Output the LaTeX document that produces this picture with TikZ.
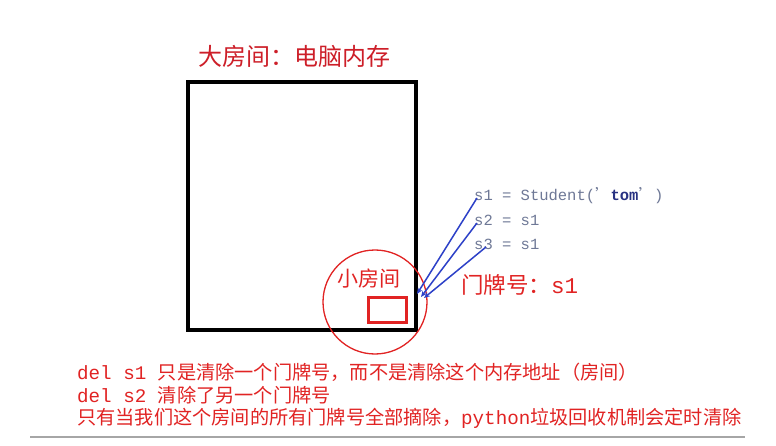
\documentclass[tikz,border=0pt]{standalone}
\usepackage{fontspec}
\newfontfamily\cjk{Noto Sans CJK SC}
\newfontfamily\codefont{Liberation Mono}
\usetikzlibrary{arrows.meta}
\definecolor{tred}{RGB}{205,30,40}
\definecolor{lred}{RGB}{225,35,35}
\definecolor{cgray}{RGB}{110,120,150}
\definecolor{cblue}{RGB}{40,50,130}
\definecolor{ablue}{RGB}{45,65,200}
\newcommand{\lat}[1]{{\codefont #1}}
\tikzset{
  redtext/.style={text=lred,font=\cjk\fontsize{#1}{#1}\selectfont,inner sep=0pt},
  codeline/.style={text=cgray,font=\codefont\fontsize{15.5}{15.5}\selectfont,inner sep=0pt,anchor=west},
  ptr/.style={draw=ablue,line width=1.5pt,-{Stealth[length=6pt,width=5pt]}},
}
\begin{document}
\begin{tikzpicture}[x=1pt,y=-1pt]
\useasboundingbox (0,0) rectangle (776,446);
\fill[white] (0,0) rectangle (776,446);
% big room
\node[draw=black,line width=4pt,minimum width=228pt,minimum height=248pt,inner sep=0pt] (big) at (302,206) {};
\node[redtext=24,text=tred] (title) at (294,56) {大房间：电脑内存};
% small room
\node[draw=lred,line width=1.3pt,circle,minimum size=104pt,inner sep=0pt] (circ) at (375,302) {};
\node[draw=lred,line width=3pt,minimum width=38pt,minimum height=25pt,inner sep=0pt] (small) at (387,310) {};
\node[redtext=21] (smalllbl) at (369,279) {小房间};
\node[redtext=22.5,anchor=west] (door) at (461,285) {门牌号：\lat{s1}};
% code
\node[codeline] (c1) at (474,196) {s1 = Student({\cjk ’}\textcolor{cblue}{\bfseries tom}{\cjk ’})};
\node[codeline] (c2) at (474,220) {s2 = s1};
\node[codeline] (c3) at (474,244) {s3 = s1};
\coordinate (t1) at (417,294);
\coordinate (t2) at (421,297);
\coordinate (t3) at (424,298);
\draw[ptr] ([xshift=3pt,yshift=-2pt]c1.west) -- (t1);
\draw[ptr] ([xshift=3pt,yshift=-3pt]c2.west) -- (t2);
\draw[ptr] ([xshift=12pt,yshift=-3pt]c3.west) -- (t3);
% notes
\node[redtext=19.2,anchor=west] (n1) at (77,372) {\lat{del s1 }只是清除一个门牌号，而不是清除这个内存地址（房间）};
\node[redtext=19.2,anchor=west] (n2) at (77,395) {\lat{del s2 }清除了另一个门牌号};
\node[redtext=19.2,anchor=west] (n3) at (77,418) {只有当我们这个房间的所有门牌号全部摘除，\lat{python}垃圾回收机制会定时清除};
\coordinate (la) at (30,437);
\coordinate (lb) at (745,437);
\draw[gray!70,line width=1.5pt] (la) -- (lb);
\end{tikzpicture}
\end{document}
